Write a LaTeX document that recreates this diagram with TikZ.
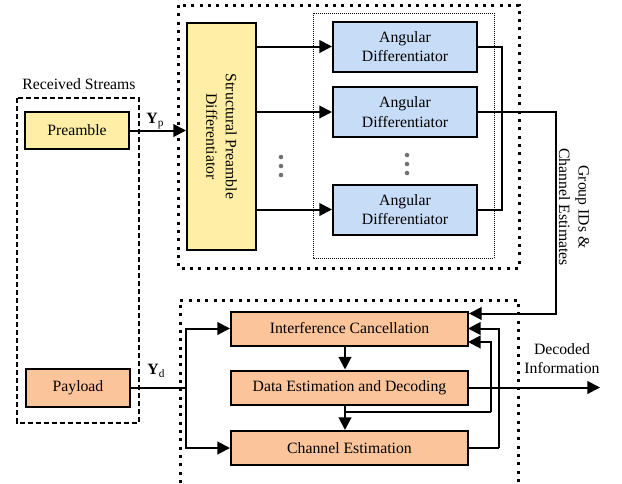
\documentclass[tikz,border=0pt]{standalone}
\usepackage{fontspec}
\setmainfont{Liberation Serif}
\usetikzlibrary{arrows.meta,calc}
\definecolor{pyel}{HTML}{FFEEA6}
\definecolor{porg}{HTML}{FCC49A}
\definecolor{pblu}{HTML}{C6DCF7}
\definecolor{dotgray}{HTML}{707070}
\begin{document}
\begin{tikzpicture}[x=0.75pt,y=-0.75pt,
  every node/.style={font=\fontsize{11.8}{14.5}\selectfont},
  box/.style={draw,line width=1.5pt,inner sep=0pt,align=center},
  yelbox/.style={box,fill=pyel},
  orgbox/.style={box,fill=porg},
  blubox/.style={box,fill=pblu,minimum width=108pt,minimum height=37.5pt},
  procbox/.style={box,fill=porg,minimum width=177.75pt,minimum height=25.5pt},
  conn/.style={line width=1.5pt},
  arr/.style={conn,-{Triangle[length=9.5pt,width=9.5pt]}},
  bigdot/.style={line width=2.25pt,dash pattern=on 2.25pt off 4pt},
  smalldot/.style={line width=0.75pt,dash pattern=on 0.75pt off 0.75pt},
  recvdash/.style={line width=1pt,dash pattern=on 4pt off 2pt},
  gdot/.style={fill=dotgray,draw=none}
]
\useasboundingbox (0,0) rectangle (622,483);

% containers
\draw[recvdash] (17,98) rectangle (139,423);
\node (rs) at (79,84) {Received Streams};
\draw[bigdot] (178,5) rectangle (519,268);
\draw[smalldot] (313,13) rectangle (494,258);
\draw[bigdot] (180,483) -- (180,300) -- (518,300) -- (518,483);

% left boxes
\node[yelbox,minimum width=78pt,minimum height=27.75pt] (pre) at (77,130.5) {Preamble};
\node[orgbox,minimum width=78pt,minimum height=28.5pt] (pay) at (78,388) {Payload};

% structural preamble differentiator
\node[yelbox,minimum width=51.75pt,minimum height=170.25pt] (spd) at (221.5,136.5) {};
\node[rotate=-90,align=center] (spdt) at (spd.center) {Structural Preamble\\Differentiator};

% angular differentiators
\node[blubox] (ad1) at (405,46.5) {Angular\\Differentiator};
\node[blubox] (ad2) at (405,112) {Angular\\Differentiator};
\node[blubox] (ad3) at (405,209.5) {Angular\\Differentiator};

\draw[arr] (spd.east |- ad1.west) -- (ad1.west);
\draw[arr] (spd.east |- ad2.west) -- (ad2.west);
\draw[arr] (spd.east |- ad3.west) -- (ad3.west);

\foreach \yy in {157,166,175} \fill[gdot] (281,\yy) circle (1.7pt);
\foreach \yy in {155,164,173} \fill[gdot] (407,\yy) circle (1.7pt);

\coordinate (brk) at (502,46.5);
\draw[conn] (ad1.east) -- (brk) |- (ad3.east);

% bottom processing boxes
\node[procbox] (ic) at (349.5,328.5) {Interference Cancellation};
\node[procbox] (ded) at (349.5,387.5) {Data Estimation and Decoding};
\node[procbox] (ce) at (349.5,448) {Channel Estimation};

% preamble input
\draw[arr] (pre.east) -- (spd.west |- pre.east);
\node (yp) at (155,121) {\textbf{Y}\raisebox{-0.35ex}{\fontsize{8.5}{10}\selectfont p}};

% payload input
\coordinate (split) at (186,388);
\draw[conn] (pay.east) -- (split);
\draw[arr] (split) |- (ic.west);
\draw[arr] (split) |- (ce.west);
\node (yd) at (156,371) {\textbf{Y}\raisebox{-0.35ex}{\fontsize{8.5}{10}\selectfont d}};

% group IDs path
\coordinate (gcorner) at (556,112);
\coordinate (icA) at ($(ic.north east)+(0,3)$);
\draw[arr] (ad2.east) -- (gcorner) |- (icA);
\node[rotate=-90,align=center] (glab) at (574,207) {Group IDs \&\\Channel Estimates};

% internal flow
\coordinate (c1) at (345,0);
\draw[arr] (ic.south -| c1) -- (ded.north -| c1);
\draw[arr] (ded.south -| c1) -- (ce.north -| c1);
\coordinate (dfb) at (345,412);
\coordinate (dfbr) at (491,412);
\coordinate (icC) at (468,342);
\draw[conn] (dfb) -- (dfbr);
\draw[arr] (dfbr) |- (icC);
\coordinate (cfbr) at (499,448);
\coordinate (icB) at (468,328.5);
\draw[conn] (ce.east) -- (cfbr);
\draw[arr] (cfbr) |- (icB);

% output
\coordinate (out) at (600,387.5);
\draw[arr] (ded.east) -- (out);
\node[align=center] (dlab) at (562,358.5) {Decoded\\Information};
\end{tikzpicture}
\end{document}
